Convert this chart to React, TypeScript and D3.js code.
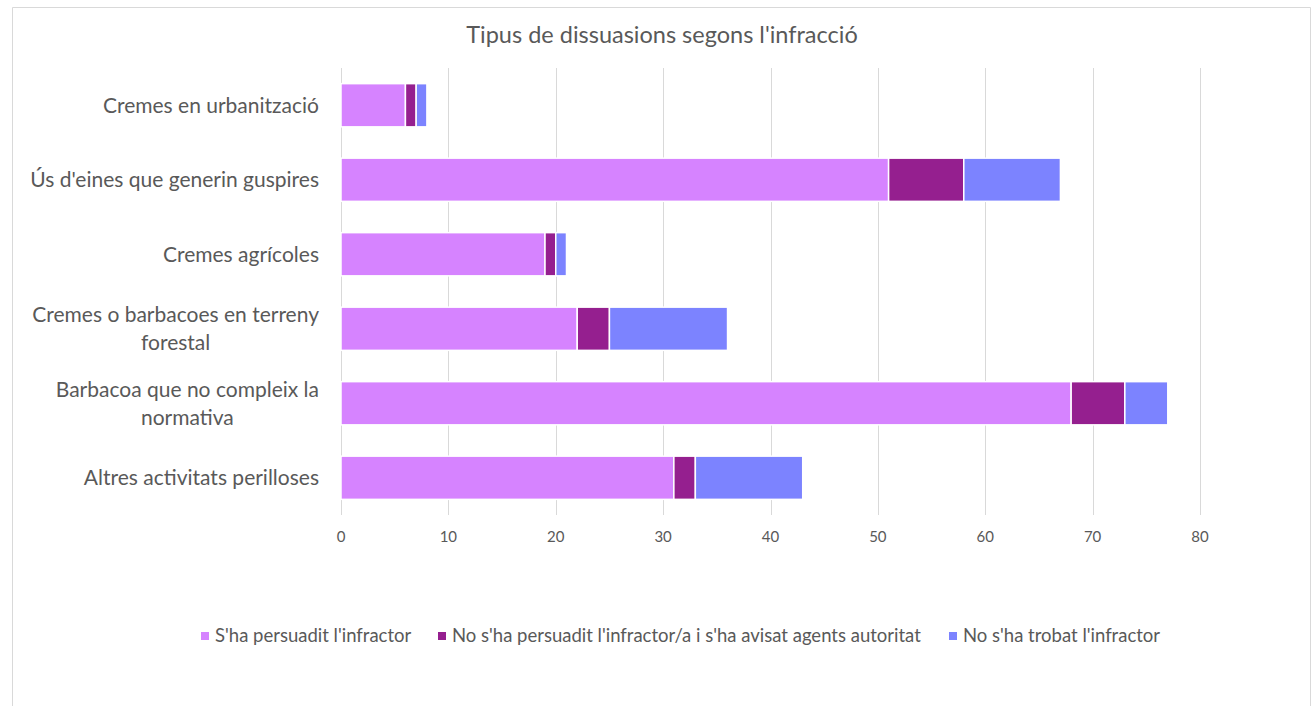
import { useEffect, useRef } from 'react';
import * as d3 from 'd3';

const categories = [
  'Cremes en urbanització',
  "Ús d'eines que generin guspires",
  'Cremes agrícoles',
  'Cremes o barbacoes en terreny forestal',
  'Barbacoa que no compleix la normativa',
  'Altres activitats perilloses',
];
const labelLines = [
  ['Cremes en urbanització'],
  ["Ús d'eines que generin guspires"],
  ['Cremes agrícoles'],
  ['Cremes o barbacoes en terreny', 'forestal'],
  ['Barbacoa que no compleix la', 'normativa'],
  ['Altres activitats perilloses'],
];
const seriesNames = [
  "S'ha persuadit l'infractor",
  "No s'ha persuadit l'infractor/a i s'ha avisat agents autoritat",
  "No s'ha trobat l'infractor",
];
const persuadit = [6, 51, 19, 22, 68, 31];
const avisat = [1, 7, 1, 3, 5, 2];
const noTrobat = [1, 9, 1, 11, 4, 10];
const xTicks = [0, 10, 20, 30, 40, 50, 60, 70, 80];
const colors = ['#D683FF', '#951F8F', '#7C83FF'];

const FONT = 'Lato, "Open Sans", sans-serif';
const TEXT = '#595959';

export default function App() {
  const svgRef = useRef<SVGSVGElement>(null);

  useEffect(() => {
    if (!svgRef.current) return;
    document.body.style.margin = '0';
    document.body.style.overflow = 'hidden';
    const svg = d3.select(svgRef.current);
    svg.selectAll('*').remove();

    const margin = { top: 68, left: 341, right: 116, bottom: 191 };
    const height = 706;

    // chart frame (bottom edge is off the picture)
    svg.append('path')
      .attr('d', 'M12.5,706 V7.5 H1310.5 V706')
      .attr('fill', 'none')
      .attr('stroke', '#d9d9d9');

    svg.append('text')
      .attr('x', 662).attr('y', 35)
      .attr('dy', '0.35em')
      .attr('text-anchor', 'middle')
      .attr('font-family', FONT).attr('font-size', 23.5)
      .attr('fill', TEXT)
      .text("Tipus de dissuasions segons l'infracció");

    const x = d3.scaleLinear().domain([0, 80]).range([margin.left, 1200]);
    const y = d3.scaleBand<string>()
      .domain(categories)
      .range([margin.top, height - margin.bottom])
      .paddingInner(0.42)
      .paddingOuter(0.21);

    const rows = categories.map((c, i) => ({
      cat: c,
      vals: [persuadit[i], avisat[i], noTrobat[i]],
    }));
    const stack = d3.stack<{ cat: string; vals: number[] }, number>()
      .keys([0, 1, 2])
      .value((d, k) => d.vals[k]);
    const stacked = stack(rows);

    // gridlines
    svg.append('g')
      .selectAll('line')
      .data(xTicks)
      .join('line')
      .attr('x1', (d) => Math.round(x(d)) + 0.5).attr('x2', (d) => Math.round(x(d)) + 0.5)
      .attr('y1', margin.top).attr('y2', height - margin.bottom)
      .attr('stroke', '#d9d9d9').attr('stroke-width', 1);

    svg.append('g')
      .selectAll('g')
      .data(stacked)
      .join('g')
      .attr('fill', (_, i) => colors[i])
      .selectAll('rect')
      .data((s) => s)
      .join('rect')
      .attr('x', (d) => x(d[0]))
      .attr('y', (d) => y(d.data.cat)!)
      .attr('width', (d) => x(d[1]) - x(d[0]))
      .attr('height', y.bandwidth())
      .attr('stroke', '#fff')
      .attr('stroke-width', 1.5);

    // x tick labels
    svg.append('g')
      .selectAll('text')
      .data(xTicks)
      .join('text')
      .attr('x', (d) => x(d))
      .attr('y', 537)
      .attr('dy', '0.35em')
      .attr('text-anchor', 'middle')
      .attr('font-family', FONT).attr('font-size', 15)
      .attr('fill', TEXT)
      .text((d) => d);

    // category labels
    const labels = svg.append('g')
      .attr('font-family', FONT).attr('font-size', 21)
      .attr('fill', TEXT);
    categories.forEach((c, i) => {
      const lines = labelLines[i];
      const cy = y(c)! + y.bandwidth() / 2;
      if (lines.length === 1) {
        labels.append('text')
          .attr('x', 319).attr('y', cy)
          .attr('dy', '0.35em')
          .attr('text-anchor', 'end')
          .text(lines[0]);
      } else {
        const t = labels.append('text')
          .attr('x', 319).attr('y', cy - 14)
          .attr('dy', '0.35em')
          .attr('text-anchor', 'end')
          .text(lines[0]);
        const w = (t.node() as SVGTextElement).getComputedTextLength();
        const mid = 319 - w / 2;
        t.attr('text-anchor', 'middle').attr('x', mid);
        labels.append('text')
          .attr('x', mid).attr('y', cy + 14)
          .attr('dy', '0.35em')
          .attr('text-anchor', 'middle')
          .text(lines[1]);
      }
    });

    // legend
    const legend = svg.append('g')
      .attr('font-family', FONT).attr('font-size', 18.5)
      .attr('fill', TEXT);
    const legendX = [201, 438, 949];
    seriesNames.forEach((name, i) => {
      legend.append('rect')
        .attr('x', legendX[i]).attr('y', 632)
        .attr('width', 8).attr('height', 8)
        .attr('fill', colors[i]);
      legend.append('text')
        .attr('x', legendX[i] + 14).attr('y', 636)
        .attr('dy', '0.35em')
        .text(name);
    });
  }, []);

  return (
    <svg ref={svgRef} width={1316} height={706} style={{ display: 'block' }} />
  );
}
